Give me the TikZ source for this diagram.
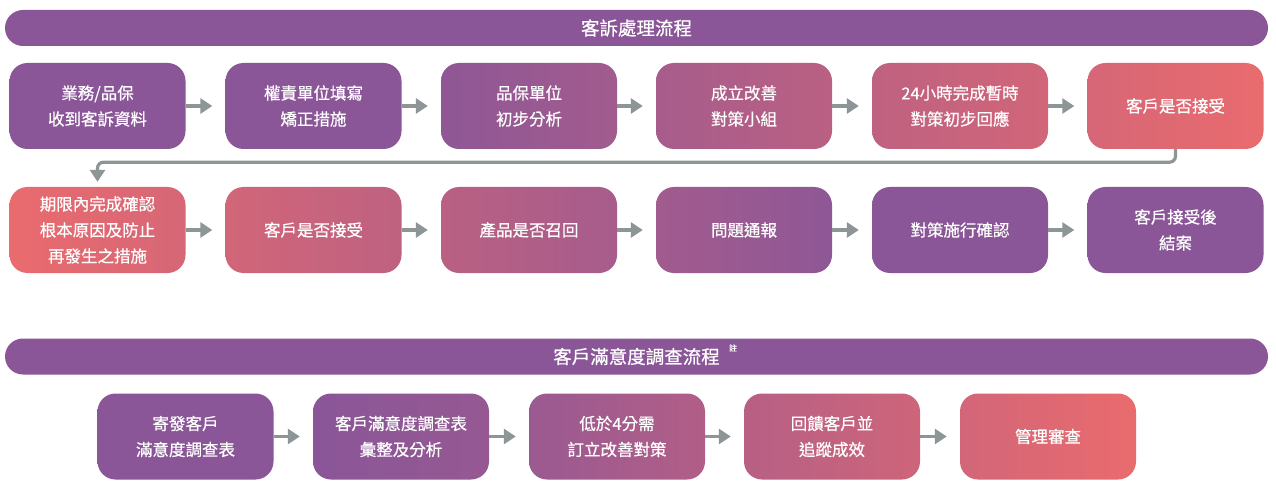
\documentclass[tikz,border=0pt]{standalone}
\usepackage{fontspec}
\newfontfamily\cjk{Noto Sans CJK TC}[FakeBold=0.6]
\usetikzlibrary{arrows.meta}
\definecolor{pur}{HTML}{8A5698}
\definecolor{cor}{HTML}{E96B6E}
\definecolor{arr}{HTML}{8E9597}
\tikzset{
  box/.style={rounded corners=18pt, minimum width=176pt, minimum height=86pt, inner sep=0pt, align=center, text=white, font=\cjk\fontsize{16.5}{26}\selectfont},
  hdr/.style={rounded corners=18pt, fill=pur, minimum width=1263pt, minimum height=36pt, inner sep=0pt, text=white, font=\cjk\fontsize{18.5}{20}\selectfont},
  flow/.style={draw=arr, line width=3.2pt, -{Triangle[length=12pt,width=15pt]}, shorten >=13pt},
  back/.style={draw=arr, line width=3.2pt, -{Triangle[length=12pt,width=15pt]}, rounded corners=6pt, shorten >=5pt},
  g/.style 2 args={left color=cor!#1!pur, right color=cor!#2!pur}
}
\begin{document}
\begin{tikzpicture}[x=1pt,y=-1pt]
\useasboundingbox (0,0) rectangle (1276,489);
\fill[white] (0,0) rectangle (1276,489);
% header 1
\node[hdr] (h1) at (636.5,28) {客訴處理流程};
% row 1
\node[box, g={0}{0}]   (a1) at (97.5,106) {業務/品保\\收到客訴資料};
\node[box, g={0}{0}]   (a2) at (313.5,106) {權責單位填寫\\矯正措施};
\node[box, g={5}{25}]  (a3) at (529,106) {品保單位\\初步分析};
\node[box, g={30}{50}] (a4) at (744,106) {成立改善\\對策小組};
\node[box, g={55}{75}] (a5) at (960,106) {24小時完成暫時\\對策初步回應};
\node[box, g={80}{100}] (a6) at (1175.5,106) {客戶是否接受};
% row 2
\node[box, g={100}{80}] (b1) at (97.5,230) {期限內完成確認\\根本原因及防止\\再發生之措施};
\node[box, g={75}{55}]  (b2) at (313.5,230) {客戶是否接受};
\node[box, g={50}{30}]  (b3) at (529,230) {產品是否召回};
\node[box, g={25}{5}]   (b4) at (744,230) {問題通報};
\node[box, g={0}{0}]    (b5) at (960,230) {對策施行確認};
\node[box, g={0}{0}]    (b6) at (1175.5,230) {客戶接受後\\結案};
% header 2
\node[hdr] (h2) at (636.5,356.5) {客戶滿意度調查流程};
\node[text=white, font=\cjk\fontsize{8}{9}\selectfont, inner sep=0pt] (note) at (733,348) {註};
% row 3
\node[box, g={0}{0}]    (c1) at (185.5,436.5) {寄發客戶\\滿意度調查表};
\node[box, g={0}{12}]   (c2) at (401,436.5) {客戶滿意度調查表\\彙整及分析};
\node[box, g={17}{41}]  (c3) at (617,436.5) {低於4分需\\訂立改善對策};
\node[box, g={47}{71}]  (c4) at (832,436.5) {回饋客戶並\\追蹤成效};
\node[box, g={76}{100}] (c5) at (1048,436.5) {管理審查};
% connectors
\foreach \p/\q in {a1/a2,a2/a3,a3/a4,a4/a5,a5/a6,b1/b2,b2/b3,b3/b4,b4/b5,b5/b6,c1/c2,c2/c3,c3/c4,c4/c5}
  \draw[flow] (\p) -- (\q);
\draw[back] (a6.south) -- ++(0,13) -| (b1.north);
\end{tikzpicture}
\end{document}
